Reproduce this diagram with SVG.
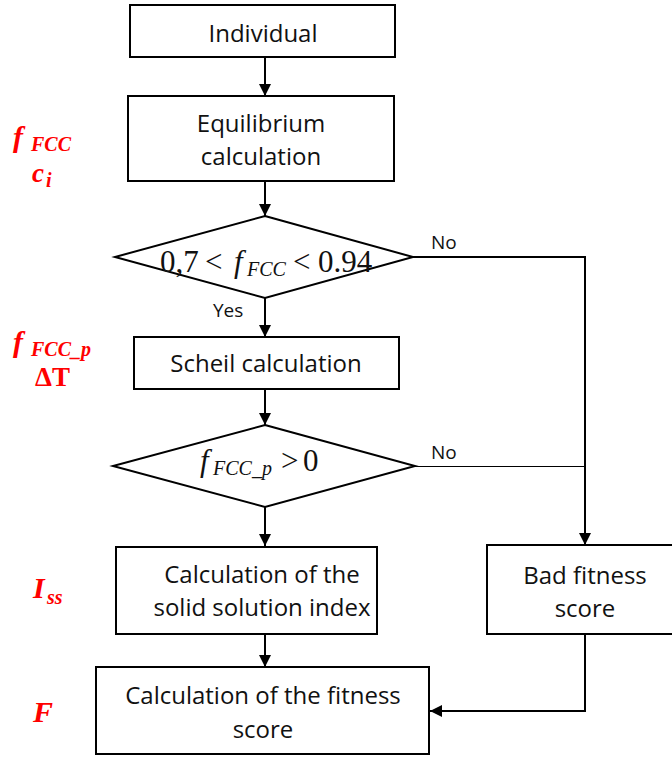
<svg xmlns="http://www.w3.org/2000/svg" width="672" height="758" viewBox="0 0 672 758">
<defs>
<style>
.box{fill:#fff;stroke:#000;stroke-width:2}
.t{font-family:"Open Sans","Liberation Sans",sans-serif;font-size:24px;fill:#111;text-anchor:middle}
.lbl{font-family:"Open Sans","Liberation Sans",sans-serif;font-size:19px;fill:#111}
.m{font-family:"Liberation Serif","DejaVu Serif",serif;font-size:31px;fill:#111}
.mi{font-style:italic}
.sub{font-size:20px;font-style:italic}
.r{font-family:"Liberation Serif","DejaVu Serif",serif;font-weight:bold;font-style:italic;fill:#f00;font-size:30px}
.rs{font-size:20px}
.c{fill:none;stroke:#000;stroke-width:2}
</style>
<marker id="ah" markerWidth="13" markerHeight="12" refX="12" refY="6" orient="auto" markerUnits="userSpaceOnUse">
<path d="M0,0 L12,6 L0,12 Z" fill="#000"/>
</marker>
</defs>
<rect width="672" height="758" fill="#fff"/>

<g id="connectors">
<line class="c" x1="265" y1="57" x2="265" y2="96" marker-end="url(#ah)"/>
<line class="c" x1="265" y1="181" x2="265" y2="216" marker-end="url(#ah)"/>
<line class="c" x1="265" y1="298" x2="265" y2="337" marker-end="url(#ah)"/>
<line class="c" x1="265" y1="389" x2="265" y2="425" marker-end="url(#ah)"/>
<line class="c" x1="265" y1="507" x2="265" y2="546" marker-end="url(#ah)"/>
<line class="c" x1="265" y1="634" x2="265" y2="667" marker-end="url(#ah)"/>
<polyline class="c" points="413,257 585,257 585,545" marker-end="url(#ah)"/>
<line x1="415" y1="466.5" x2="584" y2="466.5" stroke="#000" stroke-width="1.2"/>
<polyline class="c" points="585,634 585,711 430,711" marker-end="url(#ah)"/>
<text class="lbl" x="431" y="249">No</text>
<text class="lbl" x="431" y="459">No</text>
<text class="lbl" x="213" y="317">Yes</text>
</g>

<g id="individual">
<rect class="box" x="130" y="5" width="265" height="52"/>
<text class="t" x="263" y="42">Individual</text>
</g>

<g id="equilibrium">
<rect class="box" x="128" y="96" width="266" height="85"/>
<text class="t" x="261" y="132">Equilibrium</text>
<text class="t" x="261" y="165">calculation</text>
</g>

<g id="decision1">
<polygon class="box" points="265,216 413,257 265,298 115,257"/>
<text class="m" y="272"><tspan x="160">0,7</tspan><tspan x="205">&lt;</tspan><tspan x="234" class="mi">f</tspan><tspan x="247" y="276" class="sub">FCC</tspan><tspan x="293" y="272">&lt;</tspan><tspan x="318">0.94</tspan></text>
</g>

<g id="scheil">
<rect class="box" x="134" y="337" width="265" height="52"/>
<text class="t" x="266" y="372">Scheil calculation</text>
</g>

<g id="decision2">
<polygon class="box" points="265,425 415,466 265,507 113,466"/>
<text class="m" y="471"><tspan x="200" class="mi">f</tspan><tspan x="213" y="475" class="sub">FCC_p</tspan><tspan x="281" y="471">&gt;</tspan><tspan x="303">0</tspan></text>
</g>

<g id="ssindex">
<rect class="box" x="116" y="547" width="261" height="87"/>
<text class="t" x="262" y="583">Calculation of the</text>
<text class="t" x="262" y="616">solid solution index</text>
</g>

<g id="badfitness">
<rect class="box" x="487" y="545" width="200" height="89"/>
<text class="t" x="585" y="584">Bad fitness</text>
<text class="t" x="585" y="617">score</text>
</g>

<g id="fitness">
<rect class="box" x="96" y="667" width="333" height="87"/>
<text class="t" x="263" y="704">Calculation of the fitness</text>
<text class="t" x="263" y="738">score</text>
</g>

<g id="annotations">
<text class="r" y="147"><tspan x="13">f</tspan><tspan x="31" y="151" class="rs">FCC</tspan></text>
<text class="r" y="182" style="font-size:27px"><tspan x="32">c</tspan><tspan x="46" y="187" class="rs">i</tspan></text>
<text class="r" y="352"><tspan x="13">f</tspan><tspan x="31" y="356" class="rs">FCC_p</tspan></text>
<text class="r" x="35" y="386" style="font-style:normal;font-size:27px">ΔT</text>
<text class="r" y="598"><tspan x="33">I</tspan><tspan x="47" y="604" class="rs">ss</tspan></text>
<text class="r" x="33" y="722">F</text>
</g>
</svg>
